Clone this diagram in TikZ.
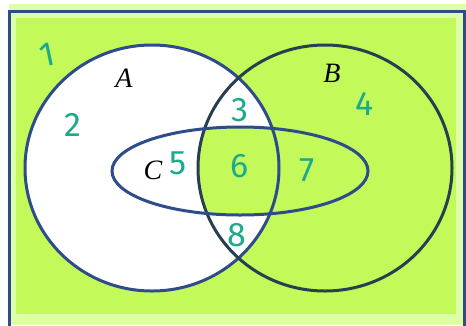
\documentclass[tikz,border=0pt]{standalone}
\usepackage{fontspec}
\newfontfamily\handfont{Fira Sans}
\newfontfamily\labfont{Liberation Serif}
\definecolor{lime}{HTML}{C4F95A}
\definecolor{limelight}{HTML}{DDFFAA}
\definecolor{edgeblue}{HTML}{2E4C8C}
\definecolor{edgedark}{HTML}{27404F}
\definecolor{numteal}{HTML}{1BAA8C}
\begin{document}
\begin{tikzpicture}[x=1pt,y=-1pt,line width=3pt,
  num/.style={text=numteal,inner sep=0pt,font=\handfont\fontsize{34}{34}\selectfont},
  lab/.style={inner sep=0pt,font=\labfont\itshape\fontsize{28}{28}\selectfont}]
\useasboundingbox (0,0) rectangle (466,325);
% shading
\fill[limelight] (9,4) rectangle (466,325);
\fill[lime] (16,18) rectangle (456,314);
\fill[white] (152,168) ellipse [x radius=127,y radius=123];
\begin{scope}
  \clip (325,168) ellipse [x radius=127,y radius=123];
  \fill[lime] (240,171) ellipse [x radius=128,y radius=44];
\end{scope}
% outlines
\draw[edgeblue] (9,11) rectangle (464,332);
\draw[edgeblue] (152,168) ellipse [x radius=127,y radius=123];
\draw[edgedark] (325,168) ellipse [x radius=127,y radius=123];
\draw[edgeblue] (240,171) ellipse [x radius=128,y radius=44];
% set labels
\node[lab] (lA) at (124,78) {A};
\node[lab] (lB) at (332,73) {B};
\node[lab] (lC) at (153,170) {C};
% region numbers
\node[num,rotate=12] (n1) at (47,55) {1};
\node[num] (n2) at (73,125) {2};
\node[num] (n3) at (240,110) {3};
\node[num] (n4) at (365,104) {4};
\node[num] (n5) at (178,163) {5};
\node[num] (n6) at (240,166) {6};
\node[num] (n7) at (307,170) {7};
\node[num] (n8) at (237,235) {8};
\end{tikzpicture}
\end{document}
